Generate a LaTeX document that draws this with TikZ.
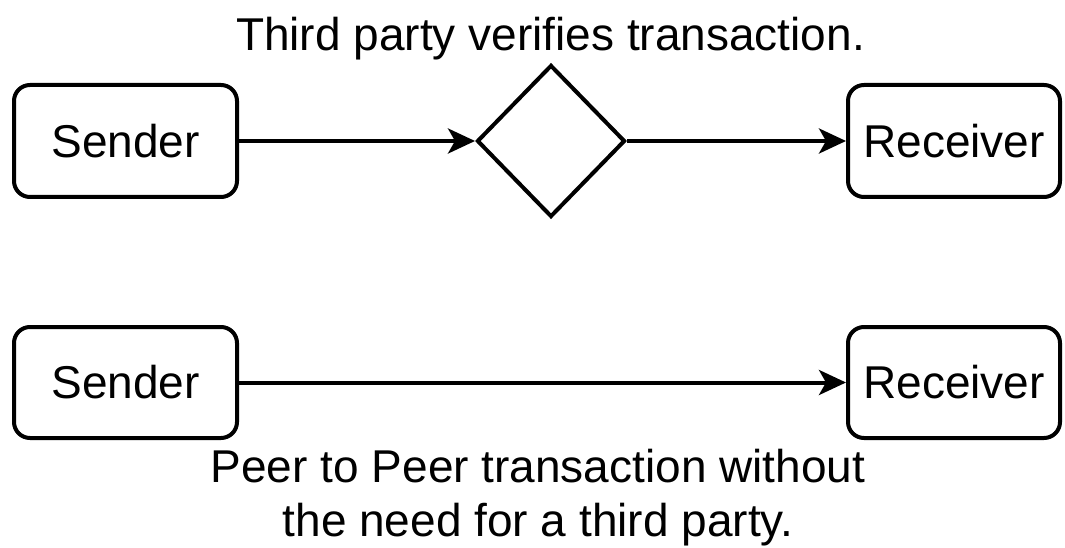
\documentclass[tikz,border=0pt]{standalone}
\usepackage{fontspec}
\setmainfont{Liberation Sans}
\usetikzlibrary{shapes.geometric,arrows.meta}
\begin{document}
\begin{tikzpicture}[x=1pt,y=-1pt,
  every node/.style={font=\fontsize{46}{55}\selectfont},
  party/.style={draw,line width=4pt,rounded corners=16pt,inner sep=0pt},
  flow/.style={line width=4pt,-{Stealth[length=27pt,width=25pt,inset=7pt]}},
  label/.style={inner sep=0pt,anchor=base}]
\useasboundingbox (0,0) rectangle (1065,548);
\fill[white] (0,0) rectangle (1065,548);
% top row
\node[party,minimum width=223pt,minimum height=112pt] (s1) at (125.5,141) {Sender};
\node[party,minimum width=212pt,minimum height=112pt] (r1) at (954,141) {Receiver};
\node[draw,diamond,line width=4pt,inner sep=0pt,minimum width=148pt,minimum height=152pt] (d) at (551,141) {};
\draw[flow] (s1.east) -- (d.west);
\draw[flow] (d.east) -- (r1.west);
\node[label] (t1) at (550.5,51) {Third party verifies transaction.};
% bottom row
\node[party,minimum width=223pt,minimum height=111pt] (s2) at (125.5,382.5) {Sender};
\node[party,minimum width=212pt,minimum height=111pt] (r2) at (954,382.5) {Receiver};
\draw[flow] (s2.east) -- (r2.west);
\node[label] (t2) at (538,482) {Peer to Peer transaction without};
\node[label] (t3) at (538,536) {the need for a third party.};
\end{tikzpicture}
\end{document}
